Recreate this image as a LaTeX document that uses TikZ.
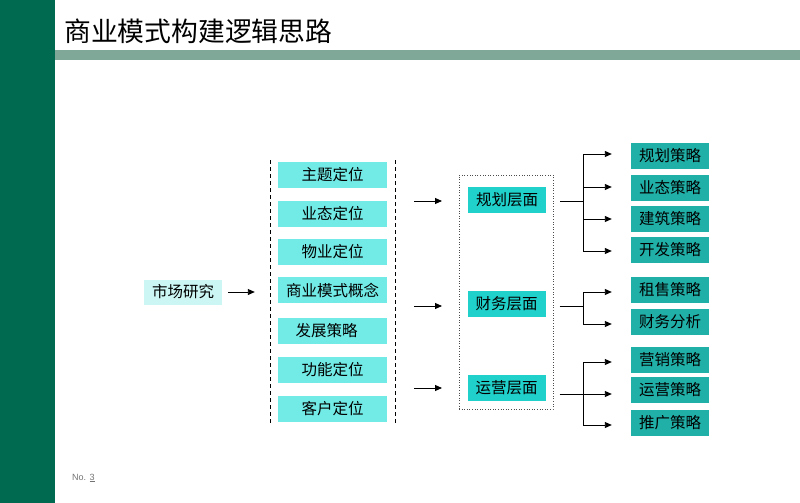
\documentclass[tikz,border=0pt]{standalone}
\usepackage{fontspec}
\newfontfamily\cjk{Noto Sans CJK SC}
\newfontfamily\lsans{Liberation Sans}
\usetikzlibrary{arrows.meta}
\definecolor{sidegreen}{RGB}{0,106,80}
\definecolor{bandgreen}{RGB}{128,168,152}
\definecolor{mktfill}{RGB}{204,246,244}
\definecolor{colfill}{RGB}{114,234,230}
\definecolor{midfill}{RGB}{32,208,202}
\definecolor{rfill}{RGB}{32,176,168}
\begin{document}
\begin{tikzpicture}[x=1pt,y=-1pt,
  every node/.style={font=\cjk\fontsize{15.5}{18}\selectfont, inner sep=0pt},
  mktbox/.style={fill=mktfill, minimum width=78pt, minimum height=25pt},
  colbox/.style={fill=colfill, minimum width=109pt, minimum height=26pt},
  midbox/.style={fill=midfill, minimum width=78pt, minimum height=26pt},
  rbox/.style={fill=rfill, minimum width=78pt, minimum height=26pt},
  conn/.style={line width=0.9pt, black},
  arr/.style={conn, -{Triangle[length=7pt,width=6pt]}}
]
\useasboundingbox (0,0) rectangle (800,503);
% background frame
\fill[sidegreen] (0,0) rectangle (55,503);
\fill[bandgreen] (55,50) rectangle (800,60);
\node[anchor=west, font=\cjk\fontsize{26.8}{30}\selectfont] (title) at (64,31) {商业模式构建逻辑思路};
\node[anchor=west, font=\lsans\fontsize{9}{11}\selectfont, text=black!55] (pg) at (72,478) {No. \underline{3}};

% left node
\node[mktbox] (mkt) at (183,292) {市场研究};

% column
\node[colbox] (c1) at (332.5,174.5) {主题定位};
\node[colbox] (c2) at (332.5,214) {业态定位};
\node[colbox] (c3) at (332.5,251.5) {物业定位};
\node[colbox] (c4) at (332.5,290) {商业模式概念};
\node[colbox] (c5) at (332.5,330.5) {\hspace*{-12pt}发展策略};
\node[colbox] (c6) at (332.5,370) {功能定位};
\node[colbox] (c7) at (332.5,409) {客户定位};
\coordinate (dl1) at (270,160);
\coordinate (dl2) at (270,423);
\coordinate (dr1) at (395,160);
\coordinate (dr2) at (395,423);
\draw[dashed, line width=0.8pt, dash pattern=on 4pt off 3pt] (dl1) -- (dl2);
\draw[dashed, line width=0.8pt, dash pattern=on 4pt off 3pt] (dr1) -- (dr2);

\draw[arr, shorten <=6pt, shorten >=23pt] (mkt.east) -- (mkt.east -| c4.west);

% middle
\node[draw=black!70, dotted, line width=0.6pt, minimum width=94pt, minimum height=234pt] (frame) at (506,292) {};
\node[midbox] (m1) at (507,200) {规划层面};
\node[midbox] (m2) at (506.5,303.5) {财务层面};
\node[midbox] (m3) at (506.5,387.5) {运营层面};

\coordinate (a1s) at (414,201); \coordinate (a1e) at (442,201);
\coordinate (a2s) at (414,306); \coordinate (a2e) at (442,306);
\coordinate (a3s) at (414,388); \coordinate (a3e) at (442,388);
\draw[arr] (a1s) -- (a1e);
\draw[arr] (a2s) -- (a2e);
\draw[arr] (a3s) -- (a3e);

% right
\node[rbox] (r1) at (670,156) {规划策略};
\node[rbox] (r2) at (670,187.5) {业态策略};
\node[rbox] (r3) at (670,218.5) {建筑策略};
\node[rbox] (r4) at (670,250) {开发策略};
\node[rbox] (r5) at (670,290) {租售策略};
\node[rbox] (r6) at (670,322) {财务分析};
\node[rbox] (r7) at (670,360) {营销策略};
\node[rbox] (r8) at (670,390) {运营策略};
\node[rbox] (r9) at (670,422.5) {推广策略};

% branches
\coordinate (j1) at (583,201);
\coordinate (j2) at (583,306);
\coordinate (j3) at (583,394);
\draw[conn] ([xshift=14pt]m1.east |- j1) -- (j1);
\draw[conn] ([xshift=14pt]m2.east |- j2) -- (j2);
\draw[conn] ([xshift=14pt]m3.east |- j3) -- (j3);
\draw[conn] (583,154) -- (583,251);
\draw[conn] (583,292) -- (583,324);
\draw[conn] (583,362) -- (583,425);
\foreach \r/\yy in {r1/154,r2/187,r3/219,r4/251,r5/292,r6/324,r7/362,r8/394,r9/425}{
  \draw[arr] (583,\yy) -- (\r.west |- 0,\yy) [shorten >=19pt];
}
\end{tikzpicture}
\end{document}
